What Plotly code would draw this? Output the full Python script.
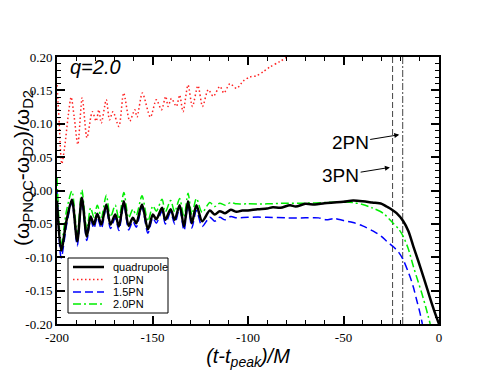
import plotly.graph_objects as go

# ---------------- data ----------------
quad_t = [-200, -197.8, -195, -192.2, -189.4, -187, -184.4, -182.4, -180.7, -178.9, -176.8,
          -174.2, -172, -169.5, -167.6, -165, -162.5, -160.3, -158.5, -155.5, -152.4,
          -149.8, -148, -145, -143.3, -140.5, -138.4, -135.8, -133.5, -131.4, -129.4,
          -127, -124, -120, -117.4, -114.8, -112, -109, -106, -103, -100, -95, -90, -87,
          -83, -78, -75, -70, -65, -60, -55, -50, -45, -40, -35, -30, -27.4, -25, -22.2,
          -18.7, -16, -13.4, -10.8, -8.2, -6, -3.8, -1.8, 0]
quad_y = [-0.015, -0.090, -0.045, -0.014, -0.076, -0.011, -0.069, -0.039, -0.051, -0.035, -0.051,
          -0.021, -0.051, -0.036, -0.054, -0.016, -0.053, -0.041, -0.049, -0.021, -0.058,
          -0.036, -0.043, -0.026, -0.044, -0.028, -0.044, -0.022, -0.054, -0.016, -0.049,
          -0.022, -0.046, -0.030, -0.036, -0.031, -0.034, -0.029, -0.032, -0.030, -0.030,
          -0.028, -0.027, -0.025, -0.026, -0.022, -0.024, -0.020, -0.021, -0.019, -0.018,
          -0.017, -0.015, -0.016, -0.018, -0.020, -0.024, -0.028, -0.034, -0.046, -0.061,
          -0.084, -0.106, -0.129, -0.149, -0.169, -0.186, -0.200]

pn10_t = [-200, -199, -197.5, -196, -194, -192.6, -191, -189.1, -186.8, -184.3, -181.5, -179.5,
          -178.1, -176.8, -174.2, -172.5, -170.7, -167.6, -165.1, -161.9, -159.3, -158.1,
          -155.3, -151.1, -148, -145.3, -143.1, -141.8, -140.1, -137.5, -135.8, -134, -131.4,
          -129.1, -126.2, -123.8, -120.8, -118.2, -114.7, -112.6, -109.5, -106, -102.5, -99,
          -95.6, -92, -88.6, -83.4, -79.5, -75, -70]
pn10_y = [0.158, 0.110, 0.040, 0.065, 0.115, 0.140, 0.110, 0.069, 0.139, 0.079, 0.118, 0.104,
          0.121, 0.101, 0.136, 0.106, 0.118, 0.096, 0.146, 0.104, 0.121, 0.110,
          0.146, 0.110, 0.136, 0.121, 0.141, 0.126, 0.138, 0.126, 0.143, 0.118, 0.158,
          0.126, 0.157, 0.126, 0.151, 0.141, 0.156, 0.146, 0.160, 0.153, 0.164, 0.170,
          0.172, 0.178, 0.185, 0.193, 0.200, 0.208, 0.215]

pn15_t = [-200, -197.8, -195, -192.2, -189.4, -187, -184.4, -182.4, -180.7, -178.9, -176.8,
          -174.2, -172, -169.5, -167.6, -165, -162.5, -160.3, -158.5, -155.5, -152.4,
          -149.8, -148, -145, -143.3, -140.5, -138.4, -135.8, -133.5, -131.4, -129.4,
          -127, -124, -120, -117.4, -114.8, -112, -109, -106, -100, -90, -80, -70, -63,
          -59, -55, -50, -45, -40, -34.4, -30, -27.4, -24, -21, -18.7, -15.2, -13.4,
          -11.7, -10, -8.7]
pn15_y = [0.000, -0.101, -0.052, -0.018, -0.083, -0.015, -0.075, -0.043, -0.057, -0.040, -0.057,
          -0.025, -0.057, -0.041, -0.060, -0.020, -0.059, -0.046, -0.055, -0.025, -0.064,
          -0.041, -0.049, -0.031, -0.050, -0.033, -0.050, -0.027, -0.060, -0.021, -0.056,
          -0.030, -0.054, -0.040, -0.046, -0.040, -0.044, -0.039, -0.041, -0.040, -0.040,
          -0.041, -0.041, -0.041, -0.044, -0.042, -0.045, -0.048, -0.053, -0.061, -0.069,
          -0.076, -0.084, -0.093, -0.104, -0.129, -0.145, -0.164, -0.183, -0.200]

pn20_t = [-200, -197.8, -195, -192.2, -189.4, -187, -184.4, -182.4, -180.7, -178.9, -176.8,
          -174.2, -172, -169.5, -167.6, -165, -162.5, -160.3, -158.5, -155.5, -152.4,
          -149.8, -148, -145, -143.3, -140.5, -138.4, -135.8, -133.5, -131.4, -129.4,
          -127, -124, -120, -117.4, -114.8, -112, -109, -106, -100, -90, -80, -70, -60,
          -50, -45, -40, -35, -29.2, -24, -21, -18.7, -16, -13.4, -11, -9.0, -6.8, -4.6]
pn20_y = [0.019, -0.080, -0.030, -0.001, -0.065, 0.001, -0.058, -0.026, -0.040, -0.022, -0.040,
          -0.007, -0.040, -0.022, -0.043, -0.003, -0.041, -0.028, -0.037, -0.008, -0.046,
          -0.023, -0.031, -0.013, -0.032, -0.015, -0.032, -0.012, -0.040, -0.004, -0.036,
          -0.012, -0.033, -0.018, -0.024, -0.019, -0.022, -0.018, -0.020, -0.020, -0.020,
          -0.019, -0.019, -0.018, -0.017, -0.018, -0.021, -0.026, -0.034, -0.049, -0.058,
          -0.069, -0.088, -0.114, -0.136, -0.154, -0.176, -0.200]

marker_3pn_t = -24.3
marker_2pn_t = -19.0

x_tickvals = [-200, -150, -100, -50, 0]
x_ticktext = ["-200", "-150", "-100", "-50", "0"]
y_tickvals = [-0.20, -0.15, -0.10, -0.05, 0.00, 0.05, 0.10, 0.15, 0.20]
y_ticktext = ["-0.20", "-0.15", "-0.10", "-0.05", "0.00", "0.05", "0.10", "0.15", "0.20"]

series_names = ["quadrupole", "1.0PN", "1.5PN", "2.0PN"]

y_lo, y_hi = -0.20, 0.20

# ---------------- styles ----------------
styles = {
    "quadrupole": dict(color="black", width=2.5, dash="solid"),
    "1.0PN": dict(color="#ff2020", width=1.5, dash="1.5px,2.5px"),
    "1.5PN": dict(color="#0000ff", width=1.5, dash="8px,4px"),
    "2.0PN": dict(color="#00ee00", width=1.5, dash="8px,3px,2px,3px"),
}

# page coordinates of the plot area (the page body has an 8px margin)
OFF = 8
W, H = 494, 382
PL, PR, PT, PB = 57, 439, 57, 324          # plot area in page pixels
ML, MT = PL - OFF, PT - OFF
MR, MB = W - (PR - OFF), H - (PB - OFF)
PW, PH = PR - PL, PB - PT


def px_x(p):
    return (p - PL) / PW


def px_y(p):
    return (PB - p) / PH


fig = go.Figure()

fig.add_trace(go.Scatter(x=[marker_3pn_t, marker_3pn_t], y=[y_lo, y_hi], mode="lines",
                         line=dict(color="#444444", width=1, dash="6px,3px"),
                         showlegend=False, hoverinfo="skip"))
fig.add_trace(go.Scatter(x=[marker_2pn_t, marker_2pn_t], y=[y_lo, y_hi], mode="lines",
                         line=dict(color="#444444", width=1, dash="7px,2px,2px,2px"),
                         showlegend=False, hoverinfo="skip"))

series = {"1.0PN": (pn10_t, pn10_y), "1.5PN": (pn15_t, pn15_y),
          "2.0PN": (pn20_t, pn20_y), "quadrupole": (quad_t, quad_y)}
for name in ["1.0PN", "1.5PN", "2.0PN", "quadrupole"]:
    t, y = series[name]
    st = styles[name]
    fig.add_trace(go.Scatter(x=t, y=y, mode="lines", name=name, showlegend=False,
                             line=dict(color=st["color"], width=st["width"], dash=st["dash"],
                                       shape="spline", smoothing=0.8)))

# custom compact legend (box, sample lines, labels)
shapes = [dict(type="rect", xref="paper", yref="paper",
               x0=px_x(68), x1=px_x(168), y0=px_y(313), y1=px_y(258),
               line=dict(color="black", width=1), fillcolor="white", layer="above")]
annotations = []
rows = [267, 279.5, 292, 304]
for name, ry in zip(series_names, rows):
    st = styles[name]
    shapes.append(dict(type="line", xref="paper", yref="paper",
                       x0=px_x(73), x1=px_x(104), y0=px_y(ry), y1=px_y(ry),
                       line=dict(color=st["color"], width=st["width"], dash=st["dash"]),
                       layer="above"))
    annotations.append(dict(x=px_x(111), y=px_y(ry), xref="paper", yref="paper",
                            text=name, showarrow=False, xanchor="left", yanchor="middle",
                            font=dict(size=11)))

annotations += [
    dict(x=-194, y=0.185, xref="x", yref="y", text="<i>q=2.0</i>", showarrow=False,
         xanchor="left", yanchor="middle", font=dict(size=20)),
    dict(x=-20.8, y=0.0836, xref="x", yref="y", ax=-46.5, ay=0.0715, axref="x", ayref="y",
         text="2PN", showarrow=True, arrowhead=2, arrowsize=1, arrowwidth=1, arrowcolor="black",
         font=dict(size=19)),
    dict(x=-25.7, y=0.0346, xref="x", yref="y", ax=-51.5, ay=0.0226, axref="x", ayref="y",
         text="3PN", showarrow=True, arrowhead=2, arrowsize=1, arrowwidth=1, arrowcolor="black",
         font=dict(size=19)),
    # y-axis title (placed as rotated text, slightly above plot centre as in the reference)
    dict(x=px_x(23), y=px_y(168), xref="paper", yref="paper", textangle=-90,
         text="(ω<sub>PNQC</sub>-ω<sub>D2</sub>)/ω<sub>D2</sub>", showarrow=False,
         xanchor="center", yanchor="middle", font=dict(size=21)),
]

tick_font = dict(family="Liberation Serif, DejaVu Serif, serif", size=13, color="black")

fig.update_layout(
    width=W, height=H,
    margin=dict(l=ML, r=MR, t=MT, b=MB),
    paper_bgcolor="white", plot_bgcolor="white",
    font=dict(family="Liberation Sans, Arial, sans-serif", color="black"),
    showlegend=False,
    xaxis=dict(range=[-200, 0], tickvals=x_tickvals, ticktext=x_ticktext,
               ticks="inside", ticklen=8, tickwidth=1.5, tickcolor="black",
               showline=True, linewidth=2, linecolor="black", mirror="ticks",
               showgrid=False, zeroline=False, tickfont=tick_font, automargin=False,
               minor=dict(dtick=10, ticks="inside", ticklen=4, tickwidth=1, tickcolor="black", showgrid=False),
               title=dict(text="<i>(t-t<sub>peak</sub>)/M</i>", font=dict(size=20), standoff=2)),
    yaxis=dict(range=[y_lo, y_hi], tickvals=y_tickvals, ticktext=y_ticktext,
               ticks="inside", ticklen=8, tickwidth=1.5, tickcolor="black",
               showline=True, linewidth=2, linecolor="black", mirror="ticks",
               showgrid=False, zeroline=False, tickfont=tick_font, automargin=False,
               minor=dict(dtick=0.01, ticks="inside", ticklen=4, tickwidth=1, tickcolor="black", showgrid=False)),
    shapes=shapes,
    annotations=annotations,
)

fig.write_html("out.html")
